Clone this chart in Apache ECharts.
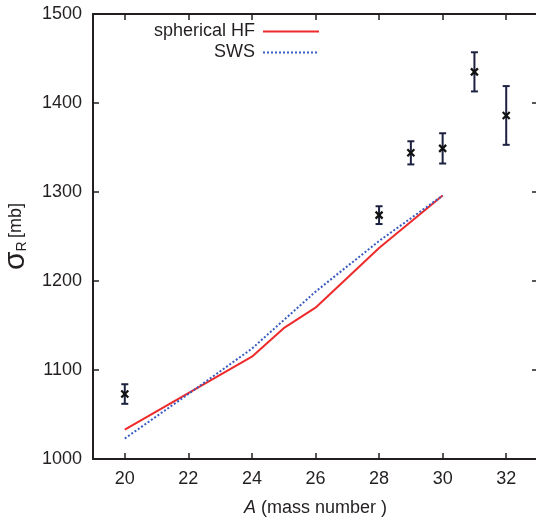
<!DOCTYPE html>
<html>
<head>
<meta charset="utf-8">
<script src="https://cdn.jsdelivr.net/npm/echarts@6/dist/echarts.min.js"></script>
<style>html,body{margin:0;padding:0;background:#fff}#c{width:536px;height:523px}</style>
</head>
<body>
<div id="c"></div>
<script>
// Data
const xTicks = [20, 22, 24, 26, 28, 30, 32];
const hfA = [20, 22, 24, 25, 26, 28, 30];
const hfSigma = [1033, 1074, 1115, 1147, 1170, 1237, 1296];
const swsA = [20, 22, 24, 26, 28, 30];
const swsSigma = [1023, 1073, 1124, 1188, 1245, 1296];
const expA = [20, 28, 29, 30, 31, 32];
const expSigma = [1073, 1274, 1344, 1349, 1435, 1386];
const expErr = [11, 10, 13, 17, 22, 33];
const legendNames = ['spherical HF', 'SWS'];

const FONT = '"Liberation Sans", Arial, sans-serif';
const TXT = '#231f20';
const chart = echarts.init(document.getElementById('c'), null, {renderer: 'canvas'});

const hfData = hfA.map((a, i) => [a, hfSigma[i]]);
const swsData = swsA.map((a, i) => [a, swsSigma[i]]);
const expData = expA.map((a, i) => [a, expSigma[i], expSigma[i] - expErr[i], expSigma[i] + expErr[i]]);

const RED = '#ee2a2a';
const BLUE = '#3a5cc0';
const ERR = '#1c2140';

const axisCommon = {
  axisLine: {show: true, onZero: false, lineStyle: {color: '#231f20', width: 2}},
  axisTick: {show: true, inside: true, length: 6, lineStyle: {color: '#231f20', width: 1.5}},
  splitLine: {show: false}
};
const xTickStyle = {show: true, inside: true, length: 6, lineStyle: {color: '#231f20', width: 1.5}, customValues: xTicks};

chart.setOption({
  animation: false,
  backgroundColor: '#fff',
  grid: {left: 93, top: 14, right: -2, bottom: 64, containLabel: false, outerBoundsMode: 'none'},
  xAxis: [
    Object.assign({
      type: 'value', min: 19, max: 33, interval: 1,
      position: 'bottom',
      axisLabel: {
        fontFamily: FONT, fontSize: 18, color: TXT, margin: 11,
        customValues: xTicks,
        formatter: v => String(v)
      },
      name: '{i|A} (mass number )',
      nameLocation: 'middle', nameGap: 40,
      nameTextStyle: {
        fontFamily: FONT, fontSize: 18, color: TXT,
        rich: {i: {fontFamily: FONT, fontSize: 18, fontStyle: 'italic', color: TXT}}
      }
    }, axisCommon, {axisTick: xTickStyle}),
    Object.assign({
      type: 'value', min: 19, max: 33, interval: 1, position: 'top',
      axisLabel: {show: false}
    }, axisCommon, {axisTick: xTickStyle})
  ],
  yAxis: [
    Object.assign({
      type: 'value', min: 1000, max: 1500, interval: 100, position: 'left',
      axisLabel: {fontFamily: FONT, fontSize: 18, color: TXT, margin: 11, formatter: v => String(v)},
      name: '{s|σ}{r|R} {m|[mb]}',
      nameLocation: 'middle', nameGap: 45, nameRotate: 90,
      nameTextStyle: {
        color: TXT,
        rich: {
          s: {fontFamily: FONT, fontSize: 30, color: TXT},
          r: {fontFamily: FONT, fontSize: 14, color: TXT, padding: [12, 0, 0, 0]},
          m: {fontFamily: FONT, fontSize: 18, color: TXT}
        }
      }
    }, axisCommon),
    Object.assign({
      type: 'value', min: 1000, max: 1500, interval: 100, position: 'right',
      axisLabel: {show: false}
    }, axisCommon)
  ],
  series: [
    {
      name: legendNames[0], type: 'line', data: hfData, xAxisIndex: 0, yAxisIndex: 0,
      showSymbol: false, symbol: 'none',
      lineStyle: {color: RED, width: 2}, z: 3
    },
    {
      name: legendNames[1], type: 'line', data: swsData, xAxisIndex: 0, yAxisIndex: 0,
      showSymbol: false, symbol: 'none',
      lineStyle: {color: BLUE, width: 2, type: [2, 2]}, z: 4
    },
    {
      name: 'exp', type: 'custom', data: expData, xAxisIndex: 0, yAxisIndex: 0, z: 5,
      renderItem: function (params, api) {
        const c = api.coord([api.value(0), api.value(1)]);
        const lo = api.coord([api.value(0), api.value(2)]);
        const hi = api.coord([api.value(0), api.value(3)]);
        const cw = 3.5, m = 3.5;
        const st = {stroke: ERR, lineWidth: 2};
        return {
          type: 'group',
          children: [
            {type: 'line', shape: {x1: c[0], y1: lo[1], x2: c[0], y2: hi[1]}, style: st},
            {type: 'line', shape: {x1: c[0] - cw, y1: lo[1], x2: c[0] + cw, y2: lo[1]}, style: st},
            {type: 'line', shape: {x1: c[0] - cw, y1: hi[1], x2: c[0] + cw, y2: hi[1]}, style: st},
            {type: 'line', shape: {x1: c[0] - m, y1: c[1] - m, x2: c[0] + m, y2: c[1] + m}, style: {stroke: '#111', lineWidth: 2.2}},
            {type: 'line', shape: {x1: c[0] - m, y1: c[1] + m, x2: c[0] + m, y2: c[1] - m}, style: {stroke: '#111', lineWidth: 2.2}}
          ]
        };
      }
    }
  ],
  graphic: [
    {type: 'text', x: 255, y: 31,
      style: {text: legendNames[0], fontFamily: FONT, fontSize: 18, fill: TXT, align: 'right', verticalAlign: 'middle'}},
    {type: 'line', shape: {x1: 263, y1: 31.5, x2: 319, y2: 31.5}, style: {stroke: RED, lineWidth: 2}},
    {type: 'text', x: 255, y: 52,
      style: {text: legendNames[1], fontFamily: FONT, fontSize: 18, fill: TXT, align: 'right', verticalAlign: 'middle'}},
    {type: 'line', shape: {x1: 263, y1: 52.5, x2: 319, y2: 52.5}, style: {stroke: BLUE, lineWidth: 2, lineDash: [2, 2]}}
  ]
});
</script>
</body>
</html>
